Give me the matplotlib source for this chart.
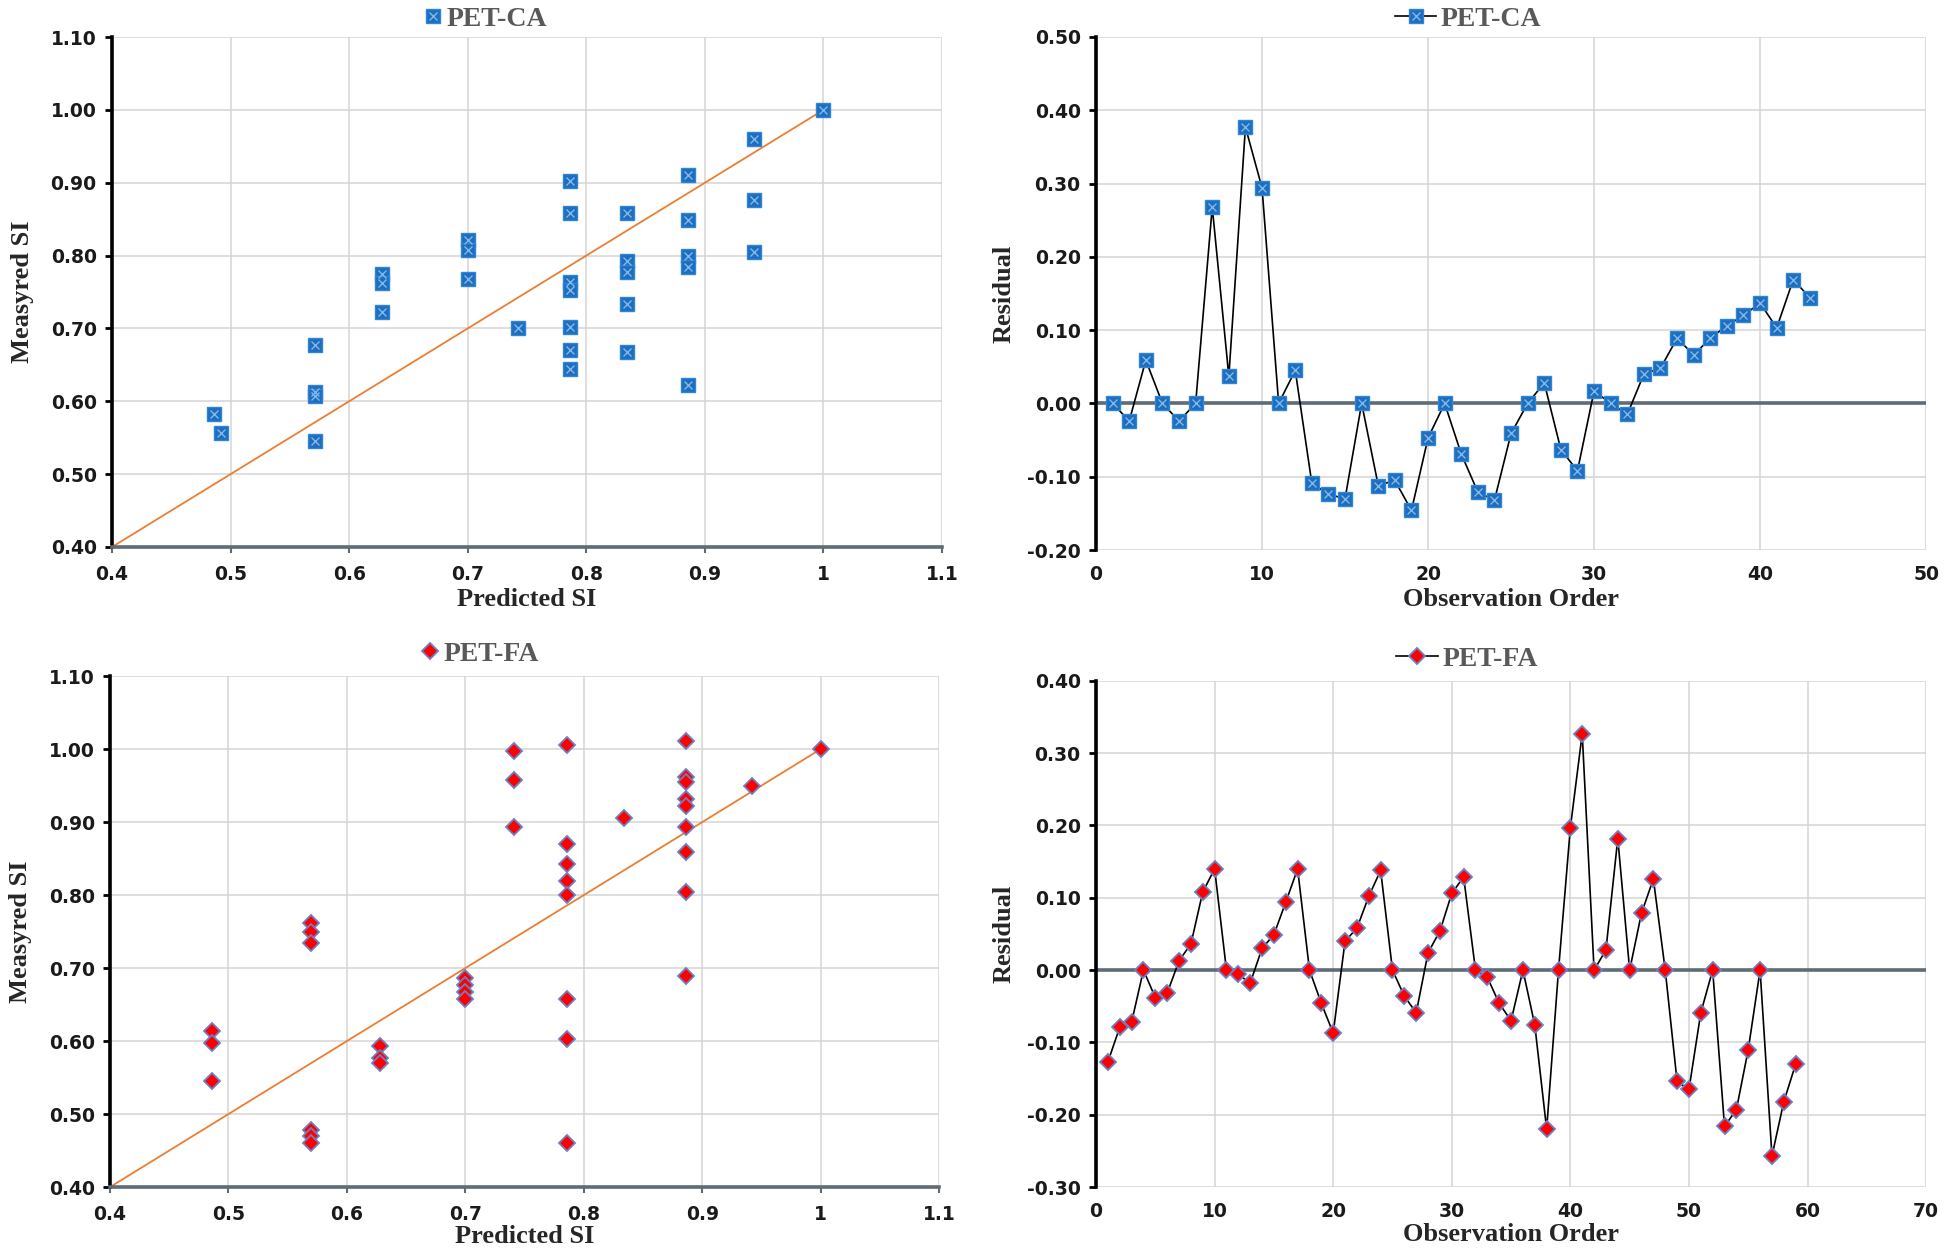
import matplotlib
matplotlib.use("Agg")
import matplotlib.pyplot as plt
from matplotlib.ticker import FormatStrFormatter, MultipleLocator

# PET-CA: predicted vs measured SI
ca_pred = [0.486, 0.492, 0.571, 0.571, 0.571, 0.571, 0.628, 0.628, 0.628,
           0.700, 0.700, 0.700, 0.742, 0.786, 0.786, 0.786, 0.786, 0.786,
           0.786, 0.786, 0.834, 0.834, 0.834, 0.834, 0.834, 0.886, 0.886,
           0.886, 0.886, 0.886, 0.941, 0.941, 0.941, 1.000]
ca_meas = [0.583, 0.557, 0.677, 0.613, 0.607, 0.546, 0.775, 0.763, 0.722,
           0.822, 0.808, 0.768, 0.700, 0.903, 0.859, 0.764, 0.753, 0.702,
           0.671, 0.645, 0.859, 0.792, 0.778, 0.734, 0.668, 0.911, 0.849,
           0.800, 0.785, 0.622, 0.960, 0.876, 0.805, 1.000]

# PET-FA: predicted vs measured SI
fa_pred = [0.486, 0.486, 0.486, 0.570, 0.570, 0.570, 0.570, 0.570, 0.570,
           0.628, 0.628, 0.628, 0.700, 0.700, 0.700, 0.700, 0.741, 0.741,
           0.741, 0.786, 0.786, 0.786, 0.786, 0.786, 0.786, 0.786, 0.786,
           0.834, 0.886, 0.886, 0.886, 0.886, 0.886, 0.886, 0.886, 0.886,
           0.886, 0.942, 1.000]
fa_meas = [0.614, 0.597, 0.545, 0.762, 0.749, 0.734, 0.478, 0.470, 0.460,
           0.593, 0.577, 0.570, 0.687, 0.677, 0.667, 0.658, 0.997, 0.957,
           0.893, 1.006, 0.870, 0.842, 0.819, 0.800, 0.658, 0.603, 0.460,
           0.905, 1.011, 0.962, 0.955, 0.931, 0.922, 0.893, 0.859, 0.804,
           0.689, 0.950, 1.000]

# line of equality
ref_line = [0.4, 1.0]

# residuals by observation order
ca_resid = [0, -0.024, 0.059, 0, -0.024, 0, 0.268, 0.037, 0.377, 0.294,
            0, 0.045, -0.109, -0.124, -0.130, 0, -0.112, -0.105, -0.146, -0.047,
            0, -0.069, -0.121, -0.132, -0.041, 0, 0.028, -0.063, -0.092, 0.017,
            0, -0.015, 0.040, 0.048, 0.089, 0.066, 0.089, 0.106, 0.120, 0.137,
            0.103, 0.169, 0.144]
fa_resid = [-0.127, -0.079, -0.072, 0, -0.038, -0.032, 0.013, 0.036, 0.108, 0.140,
            0, -0.006, -0.018, 0.030, 0.049, 0.094, 0.140, 0, -0.046, -0.087,
            0.040, 0.058, 0.102, 0.138, 0, -0.036, -0.059, 0.024, 0.054, 0.106,
            0.129, 0, -0.010, -0.046, -0.070, 0, -0.076, -0.220, 0, 0.197,
            0.327, 0, 0.028, 0.182, 0, 0.079, 0.126, 0, -0.154, -0.165,
            -0.059, 0, -0.216, -0.193, -0.110, 0, -0.257, -0.182, -0.130]
ca_obs = list(range(1, len(ca_resid) + 1))
fa_obs = list(range(1, len(fa_resid) + 1))

LABEL_FONT = dict(family="Liberation Serif", weight="bold", size=19, color="#262626")
TICK_FONT = dict(family="DejaVu Sans", weight="bold", size=13.5)
GRID = "#d4d4d4"
AXIS_GRAY = "#5f6b77"

# Excel-like marker styles
sq_style = dict(marker="s", ms=10, mfc="#1f6dbf", mec="#2f86d6", mew=1.0)
x_style = dict(marker="x", ms=6, mew=1.0, color="#7fb9e8")
dia_style = dict(marker="D", ms=8.5, mfc="#ff0000", mec="#6a7fc4", mew=1.3)

fig = plt.figure(figsize=(19.44, 12.56), dpi=100)
ax_tl = fig.add_axes([0.0576, 0.5645, 0.427, 0.406])
ax_tr = fig.add_axes([0.5638, 0.5621, 0.427, 0.4085])
ax_bl = fig.add_axes([0.0566, 0.0549, 0.4265, 0.4068])
ax_br = fig.add_axes([0.5638, 0.0549, 0.427, 0.403])


def style_axes(ax, zero_line=False):
    ax.grid(True, color=GRID, lw=1.1)
    ax.set_axisbelow(True)
    for s in ["top", "right"]:
        ax.spines[s].set_visible(False)
    ax.spines["left"].set_color("black")
    ax.spines["left"].set_linewidth(2.6)
    if zero_line:
        ax.spines["bottom"].set_visible(False)
        ax.axhline(0, color=AXIS_GRAY, lw=2.6, zorder=1.5)
        ax.tick_params(axis="x", length=0, pad=11)
    else:
        ax.spines["bottom"].set_color(AXIS_GRAY)
        ax.spines["bottom"].set_linewidth(2.6)
        ax.tick_params(axis="x", length=4, width=1.5, color=AXIS_GRAY, pad=9)
    ax.tick_params(axis="y", length=5, width=2, color="black", pad=6)
    for lab in ax.get_xticklabels() + ax.get_yticklabels():
        lab.set_fontfamily(TICK_FONT["family"])
        lab.set_fontweight(TICK_FONT["weight"])
        lab.set_fontsize(TICK_FONT["size"])
        lab.set_color("#1a1a1a")


def top_legend(ax, handles, label, xc, yc, hlen):
    leg = ax.legend(handles, [label], loc="lower center", bbox_to_anchor=(xc, yc),
                    frameon=False, handlelength=hlen, handletextpad=0.15, borderpad=0.1,
                    prop=dict(family="Liberation Serif", weight="bold", size=20))
    for t in leg.get_texts():
        t.set_color("#595959")


# --- top left: PET-CA scatter ---
ax = ax_tl
ax.plot(ref_line, ref_line, color="#ed7d31", lw=1.3, zorder=2)
h1, = ax.plot(ca_pred, ca_meas, ls="none", zorder=3, **sq_style)
h2, = ax.plot(ca_pred, ca_meas, ls="none", zorder=4, **x_style)
ax.set_xlim(0.4, 1.1)
ax.set_ylim(0.4, 1.1)
ax.xaxis.set_major_locator(MultipleLocator(0.1))
ax.yaxis.set_major_locator(MultipleLocator(0.1))
ax.xaxis.set_major_formatter(FormatStrFormatter("%g"))
ax.yaxis.set_major_formatter(FormatStrFormatter("%.2f"))
ax.set_xlabel("Predicted SI", labelpad=3, **LABEL_FONT)
ax.set_ylabel("Measyred SI", labelpad=12, **LABEL_FONT)
style_axes(ax)
top_legend(ax, [(h1, h2)], "PET-CA", 0.45, 0.978, 0.7)

# --- top right: PET-CA residuals ---
ax = ax_tr
l1, = ax.plot(ca_obs, ca_resid, color="black", lw=1.2, zorder=3, **sq_style)
l2, = ax.plot(ca_obs, ca_resid, ls="none", zorder=4, **x_style)
ax.set_xlim(0, 50)
ax.set_ylim(-0.2, 0.5)
ax.xaxis.set_major_locator(MultipleLocator(10))
ax.yaxis.set_major_locator(MultipleLocator(0.1))
ax.yaxis.set_major_formatter(FormatStrFormatter("%.2f"))
ax.set_xlabel("Observation Order", labelpad=3, **LABEL_FONT)
ax.set_ylabel("Residual", labelpad=8, **LABEL_FONT)
style_axes(ax, zero_line=True)
top_legend(ax, [(l1, l2)], "PET-CA", 0.448, 0.978, 1.5)

# --- bottom left: PET-FA scatter ---
ax = ax_bl
ax.plot(ref_line, ref_line, color="#ed7d31", lw=1.3, zorder=2)
d1, = ax.plot(fa_pred, fa_meas, ls="none", zorder=3, **dia_style)
ax.set_xlim(0.4, 1.1)
ax.set_ylim(0.4, 1.1)
ax.xaxis.set_major_locator(MultipleLocator(0.1))
ax.yaxis.set_major_locator(MultipleLocator(0.1))
ax.xaxis.set_major_formatter(FormatStrFormatter("%g"))
ax.yaxis.set_major_formatter(FormatStrFormatter("%.2f"))
ax.set_xlabel("Predicted SI", labelpad=1, **LABEL_FONT)
ax.set_ylabel("Measyred SI", labelpad=12, **LABEL_FONT)
style_axes(ax)
top_legend(ax, [d1], "PET-FA", 0.446, 0.985, 0.7)

# --- bottom right: PET-FA residuals ---
ax = ax_br
r1, = ax.plot(fa_obs, fa_resid, color="black", lw=1.2, zorder=3, **dia_style)
ax.set_xlim(0, 70)
ax.set_ylim(-0.3, 0.4)
ax.xaxis.set_major_locator(MultipleLocator(10))
ax.yaxis.set_major_locator(MultipleLocator(0.1))
ax.yaxis.set_major_formatter(FormatStrFormatter("%.2f"))
ax.set_xlabel("Observation Order", labelpad=1, **LABEL_FONT)
ax.set_ylabel("Residual", labelpad=8, **LABEL_FONT)
style_axes(ax, zero_line=True)
top_legend(ax, [r1], "PET-FA", 0.447, 0.985, 1.5)

fig.savefig("out.png", dpi=100, facecolor="white")
